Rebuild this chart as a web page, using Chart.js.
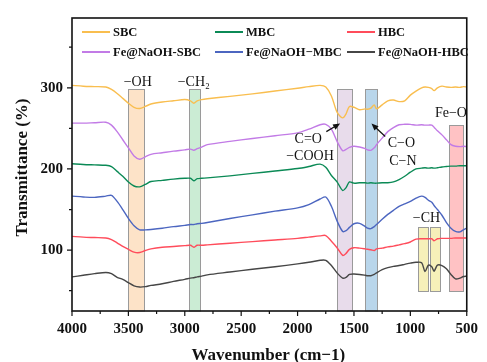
<!DOCTYPE html>
<html>
<head>
<meta charset="utf-8">
<script src="https://cdn.jsdelivr.net/npm/chart.js@4/dist/chart.umd.min.js"></script>
<style>
  html, body { margin: 0; padding: 0; background: #fff; }
  canvas { display: block; }
</style>
</head>
<body>
<canvas id="ftir" width="487" height="362"></canvas>
<script>
// FTIR spectra, transmittance vs wavenumber (cm-1)
const wavenumbers = [4000, 3900, 3800, 3700, 3650, 3600, 3550, 3500, 3450, 3400, 3350, 3300,
  3200, 3100, 3000, 2950, 2920, 2890, 2850, 2800, 2600, 2400, 2200, 2000, 1900, 1800, 1750,
  1700, 1650, 1600, 1570, 1540, 1500, 1450, 1400, 1380, 1350, 1320, 1300, 1250, 1200, 1150,
  1100, 1050, 1000, 950, 900, 870, 840, 810, 790, 760, 720, 680, 640, 600, 560, 530, 500];

const tSBC = [303, 302, 301.5, 301, 298, 293, 287, 281, 276, 274.5, 277, 280,
  282.5, 284, 285.5, 284, 281, 284, 285.5, 286.5, 289.5, 292.5, 296, 299.5, 301.5, 303, 301,
  290, 270, 263, 268, 277, 276, 273, 274, 273.5, 275, 279, 274, 279, 284, 285,
  283, 284, 291, 296, 300, 301, 300.5, 299, 296.5, 300, 302, 301, 300.5, 301, 300.5, 301.5, 301];

const tMBC = [206.5, 205.5, 205, 204.5, 203, 197, 191, 184, 179, 178, 181, 184.5,
  186, 187.5, 188.5, 188.5, 185.5, 188, 188.5, 189, 191.5, 194.5, 197.5, 200.5, 203, 206, 202,
  192, 184, 173.5, 177, 184, 182.5, 183, 183, 182.5, 183, 182.5, 182.5, 183, 183, 184,
  187, 191, 196, 200, 201, 201.5, 201, 201.5, 201, 201.5, 202.5, 203, 203.5, 203.5, 204, 204, 204];

const tHBC = [117, 116, 115.5, 115, 113, 109, 104.5, 101, 97.5, 97, 99.5, 101.5,
  103.5, 104.5, 105.5, 106, 103.5, 106, 106, 106.5, 108.5, 110.5, 112.5, 114.5, 116, 117.5, 118,
  111, 103, 93.5, 96, 101, 103, 102.5, 101.5, 101, 100.5, 99.5, 101.5, 102.5, 104, 105,
  106.5, 108, 110, 113.5, 114, 114, 114, 114, 111.5, 114, 114.5, 114.5, 114.5, 115, 115, 115, 115];

const tFeSBC = [256.5, 256.5, 257, 257.5, 254, 246, 236, 226, 216, 212, 215, 218,
  220, 222, 223.5, 224.5, 223, 225, 227, 230, 234, 237.5, 241, 244.5, 249, 254.5, 255,
  249, 234, 222.5, 224, 226.5, 228, 227, 225, 223.5, 223, 226, 230, 238, 246, 251,
  254.5, 255, 255, 254, 254.5, 254, 254, 254, 251.5, 247, 242, 236, 230, 228, 227.5, 228, 227.5];

const tFeMBC = [166.5, 165.5, 165, 166.5, 167.5, 160, 150, 139, 130, 125, 125, 125.5,
  127, 129, 130.5, 131.5, 131.5, 132.5, 133, 134, 139, 143.5, 148, 152, 156, 163, 165.5,
  154, 136, 123, 124, 128, 132.5, 133, 129, 127, 126.5, 129, 131.5, 138, 144, 149,
  154, 157, 160, 164, 166.5, 165, 161.5, 159, 155, 150, 143, 134, 127, 123, 122.5, 125, 127];

const tFeHBC = [67, 69, 71, 72.5, 71, 66.5, 64, 60, 56, 54.5, 55, 56.5,
  58.5, 61.5, 64, 65.5, 66, 67, 68, 69.5, 73, 76.5, 79.5, 83, 85, 87.5, 87.5,
  81, 72, 65.5, 66.5, 70, 70.5, 70, 69, 68.5, 68.5, 70, 72, 76, 78.5, 80,
  81, 82.5, 84, 85, 84.5, 73.5, 81.5, 79.5, 74, 81.5, 81, 77, 70, 64.5, 65.5, 67.5, 68];

const seriesNames = ['SBC', 'MBC', 'HBC', 'Fe@NaOH-SBC', 'Fe@NaOH\u2212MBC', 'Fe@NaOH-HBC'];
const seriesColors = ['#F9BE4F', '#0B8A56', '#FF4C5B', '#C27BE6', '#4C66C0', '#464646'];
const seriesValues = [tSBC, tMBC, tHBC, tFeSBC, tFeMBC, tFeHBC];

const xTickValues = [4000, 3500, 3000, 2500, 2000, 1500, 1000, 500];
const yTickValues = [100, 200, 300];

// absorption bands: wavenumber span, transmittance top / bottom (null = axis)
const bands = [
  { from: 3500, to: 3360, top: 298, bottom: null, fill: '#FDE3C8' },
  { from: 2962, to: 2866, top: 298, bottom: null, fill: '#CBECD4' },
  { from: 1652, to: 1521, top: 298, bottom: null, fill: '#E8DCEB' },
  { from: 1400, to: 1298, top: 298, bottom: null, fill: '#B9D6EB' },
  { from: 933, to: 840, top: 128, bottom: 50, fill: '#F6F0B9' },
  { from: 828, to: 738, top: 128, bottom: 50, fill: '#F6F0B9' },
  { from: 657, to: 535, top: 254, bottom: 50, fill: '#FFC2C4' }
];

// band labels placed in data coordinates
const bandLabels = [
  { text: '\u2212OH', wn: 3417, t: 306.5 },
  { text: '\u2212CH\u2082', wn: 2920, t: 306.5 },
  { text: 'C=O', wn: 1905, t: 237 },
  { text: '\u2212COOH', wn: 1890, t: 215 },
  { text: 'C\u2212O', wn: 1080, t: 231 },
  { text: 'C\u2212N', wn: 1066, t: 209.5 },
  { text: 'Fe\u2212O', wn: 640, t: 269 },
  { text: '\u2212CH', wn: 857, t: 139 }
];
const bandArrows = [
  { from: [1745, 246], to: [1623, 256] },
  { from: [1223, 240], to: [1345, 256] }
];

const serif = '"Liberation Serif", "Times New Roman", serif';

const datasets = seriesNames.map((name, i) => ({
  label: name,
  data: wavenumbers.map((w, k) => ({ x: w, y: seriesValues[i][k] })),
  borderColor: seriesColors[i],
  borderWidth: 1.4,
  pointRadius: 0,
  tension: 0.3,
  fill: false
}));

const ftirDecor = {
  id: 'ftirDecor',
  beforeDraw(chart) {
    const ctx = chart.ctx;
    ctx.save();
    ctx.fillStyle = '#fff';
    ctx.fillRect(0, 0, chart.width, chart.height);
    ctx.restore();
  },
  beforeDatasetsDraw(chart) {
    const { ctx, chartArea, scales: { x, y } } = chart;
    ctx.save();
    bands.forEach(b => {
      const x1 = Math.round(x.getPixelForValue(b.from)) + 0.5;
      const x2 = Math.round(x.getPixelForValue(b.to)) + 0.5;
      const yt = Math.round(y.getPixelForValue(b.top)) + 0.5;
      const yb = b.bottom == null ? chartArea.bottom : Math.round(y.getPixelForValue(b.bottom)) + 0.5;
      ctx.fillStyle = b.fill;
      ctx.fillRect(x1, yt, x2 - x1, yb - yt);
      ctx.strokeStyle = '#9A9A9A';
      ctx.lineWidth = 1;
      ctx.strokeRect(x1, yt, x2 - x1, yb - yt);
    });
    ctx.restore();
  },
  afterDatasetsDraw(chart) {
    const { ctx, chartArea: a, scales: { x, y } } = chart;
    ctx.save();

    // frame
    ctx.strokeStyle = '#111';
    ctx.lineWidth = 1.6;
    ctx.strokeRect(a.left, a.top, a.right - a.left, a.bottom - a.top);

    // outward tick marks, majors longer than minors
    ctx.lineWidth = 1.2;
    ctx.beginPath();
    for (let v = 500; v <= 4000; v += 250) {
      const px = x.getPixelForValue(v);
      ctx.moveTo(px, a.bottom);
      ctx.lineTo(px, a.bottom + (v % 500 === 0 ? 5 : 3));
    }
    for (let v = 50; v <= 350; v += 50) {
      const py = y.getPixelForValue(v);
      ctx.moveTo(a.left, py);
      ctx.lineTo(a.left - (v % 100 === 0 ? 5 : 3), py);
    }
    ctx.stroke();

    // band labels
    ctx.fillStyle = '#111';
    ctx.font = '14px ' + serif;
    ctx.textAlign = 'center';
    ctx.textBaseline = 'middle';
    bandLabels.forEach(l => {
      ctx.fillText(l.text, x.getPixelForValue(l.wn), y.getPixelForValue(l.t));
    });

    // arrows
    bandArrows.forEach(ar => {
      const x0 = x.getPixelForValue(ar.from[0]), y0 = y.getPixelForValue(ar.from[1]);
      const x1 = x.getPixelForValue(ar.to[0]), y1 = y.getPixelForValue(ar.to[1]);
      const ang = Math.atan2(y1 - y0, x1 - x0);
      ctx.strokeStyle = '#111';
      ctx.lineWidth = 1.2;
      ctx.beginPath();
      ctx.moveTo(x0, y0);
      ctx.lineTo(x1 - 5 * Math.cos(ang), y1 - 5 * Math.sin(ang));
      ctx.stroke();
      ctx.beginPath();
      ctx.moveTo(x1, y1);
      ctx.lineTo(x1 - 7 * Math.cos(ang) + 3 * Math.sin(ang), y1 - 7 * Math.sin(ang) - 3 * Math.cos(ang));
      ctx.lineTo(x1 - 7 * Math.cos(ang) - 3 * Math.sin(ang), y1 - 7 * Math.sin(ang) + 3 * Math.cos(ang));
      ctx.closePath();
      ctx.fill();
    });

    // legend, two rows of three
    const cols = [82, 215, 347];
    const rows = [32, 52];
    ctx.font = 'bold 12.5px ' + serif;
    ctx.textAlign = 'left';
    chart.data.datasets.forEach((ds, i) => {
      const cx = cols[i % 3], cy = rows[Math.floor(i / 3)];
      ctx.strokeStyle = ds.borderColor;
      ctx.lineWidth = 2;
      ctx.beginPath();
      ctx.moveTo(cx, cy);
      ctx.lineTo(cx + 28, cy);
      ctx.stroke();
      ctx.fillStyle = '#111';
      ctx.fillText(ds.label, cx + 31, cy + 1);
    });

    // axis titles
    ctx.font = 'bold 17px ' + serif;
    ctx.textAlign = 'center';
    ctx.fillText('Wavenumber (cm\u22121)', (a.left + a.right) / 2 - 1, 356);
    ctx.translate(23, (a.top + a.bottom) / 2 + 3);
    ctx.rotate(-Math.PI / 2);
    ctx.fillText('Transmittance (%)', 0, 0);
    ctx.restore();
  }
};

new Chart(document.getElementById('ftir'), {
  type: 'line',
  data: { datasets },
  plugins: [ftirDecor],
  options: {
    responsive: false,
    devicePixelRatio: 1,
    animation: false,
    layout: { padding: { left: 0, top: 14, right: 13, bottom: 0 } },
    plugins: { legend: { display: false }, tooltip: { enabled: false } },
    scales: {
      x: {
        type: 'linear',
        reverse: true,
        min: 500,
        max: 4000,
        afterBuildTicks: s => { s.ticks = xTickValues.map(v => ({ value: v })); },
        afterFit: s => { s.height = 51; },
        grid: { display: false, drawTicks: false },
        border: { display: false },
        ticks: {
          padding: 9,
          maxRotation: 0,
          autoSkip: false,
          color: '#111',
          callback: v => String(v),
          font: { family: serif, size: 15, weight: 'bold' }
        }
      },
      y: {
        min: 25,
        max: 386,
        afterBuildTicks: s => { s.ticks = yTickValues.map(v => ({ value: v })); },
        afterFit: s => { s.width = 72; },
        grid: { display: false, drawTicks: false },
        border: { display: false },
        ticks: {
          padding: 9,
          color: '#111',
          callback: v => String(v),
          font: { family: serif, size: 15, weight: 'bold' }
        }
      }
    }
  }
});
</script>
</body>
</html>
